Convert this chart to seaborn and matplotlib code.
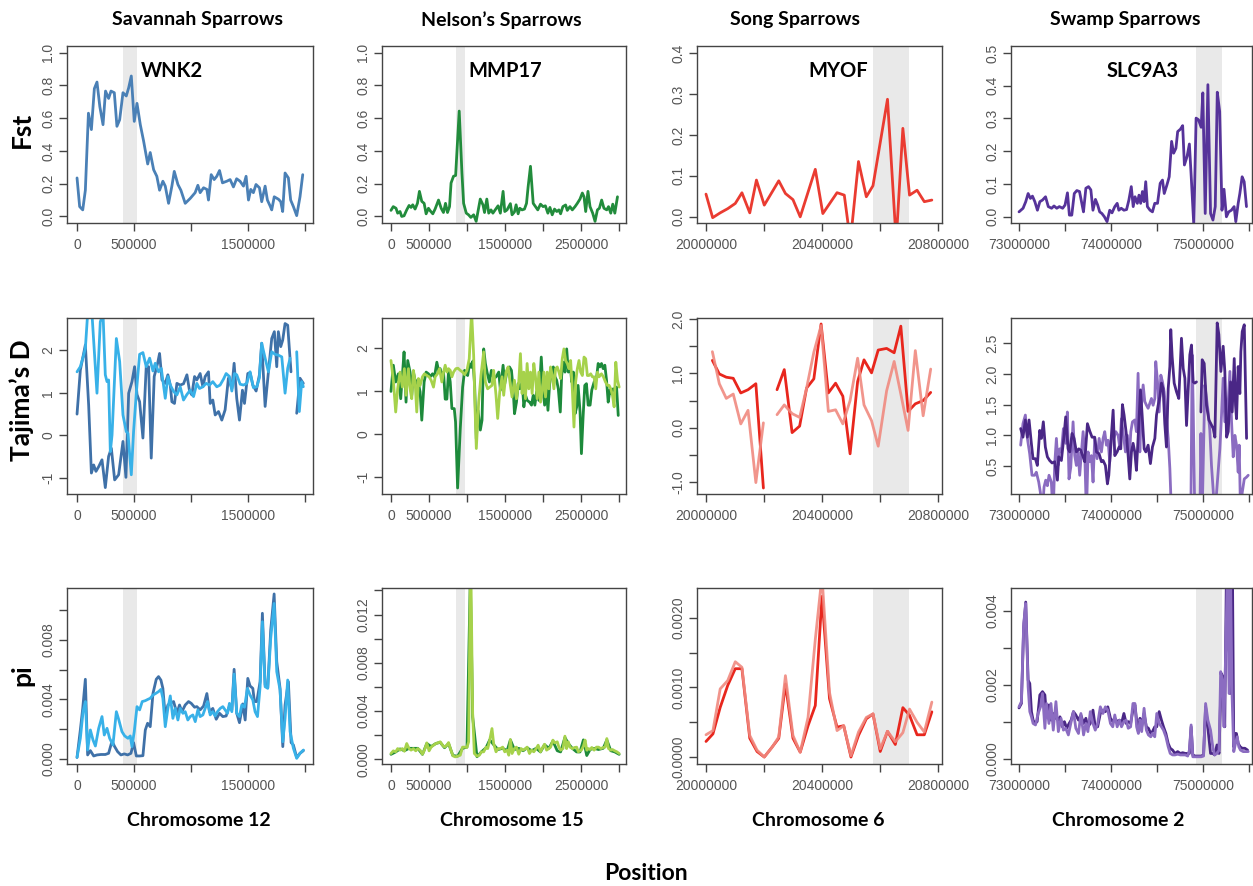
import warnings
warnings.filterwarnings("ignore")

import numpy as np
import pandas as pd
import matplotlib
matplotlib.use("Agg")
import matplotlib.pyplot as plt
import seaborn as sns

sns.set_theme(style="ticks")
plt.rcParams["font.family"] = ["Liberation Sans", "DejaVu Sans"]
plt.rcParams["lines.solid_joinstyle"] = "round"
plt.rcParams["lines.solid_capstyle"] = "round"

nan = np.nan

# ── Fst ─────────────────────────────────────────────────────────
sav_fst_kb = [0, 23, 50, 73, 100, 126, 152, 175, 200, 228, 250, 277, 298, 327, 350, 374, 403,
              432, 453, 476, 502, 526, 555, 584, 620, 642, 672, 700, 724, 753, 774, 803, 832,
              853, 885, 911, 949, 993, 1036, 1060, 1080, 1110, 1139, 1153, 1177, 1203, 1226,
              1250, 1276, 1314, 1343, 1372, 1400, 1430, 1460, 1483, 1504, 1524, 1547, 1570,
              1600, 1620, 1650, 1670, 1693, 1708, 1730, 1767, 1787, 1804, 1825, 1854, 1874,
              1898, 1927, 1956, 1980]
sav_fst = [0.235, 0.06, 0.04, 0.16, 0.63, 0.53, 0.78, 0.82, 0.67, 0.56, 0.765, 0.72, 0.765,
           0.755, 0.55, 0.59, 0.755, 0.735, 0.785, 0.857, 0.58, 0.69, 0.56, 0.46, 0.32, 0.39,
           0.285, 0.245, 0.16, 0.215, 0.185, 0.08, 0.185, 0.275, 0.195, 0.16, 0.08, 0.11,
           0.145, 0.19, 0.145, 0.175, 0.165, 0.10, 0.255, 0.225, 0.245, 0.28, 0.205, 0.215,
           0.225, 0.18, 0.23, 0.215, 0.185, 0.245, 0.10, 0.165, 0.145, 0.195, 0.175, 0.09,
           0.185, 0.10, 0.065, 0.04, 0.12, 0.105, 0.09, 0.03, 0.265, 0.235, 0.10, 0.06,
           0.005, 0.12, 0.255]

nel_fst_kb = [0, 30, 66, 88, 119, 141, 172, 207, 238, 264, 286, 317, 348, 374, 405, 436, 462,
              493, 515, 550, 580, 625, 660, 690, 717, 743, 770, 790, 822, 850, 897, 933, 955,
              990, 1020, 1050, 1087, 1120, 1174, 1210, 1230, 1260, 1285, 1315, 1340, 1370,
              1408, 1438, 1474, 1496, 1526, 1570, 1592, 1623, 1645, 1672, 1694, 1724, 1755,
              1782, 1803, 1834, 1870, 1900, 1930, 1966, 2000, 2030, 2063, 2090, 2120, 2150,
              2180, 2208, 2230, 2260, 2296, 2318, 2353, 2384, 2420, 2450, 2485, 2516, 2538,
              2560, 2590, 2617, 2652, 2683, 2714, 2740, 2770, 2800, 2837, 2860, 2890, 2916,
              2943, 2978]
nel_fst = [0.037, 0.06, 0.05, 0.02, 0.03, 0.0, 0.004, 0.04, 0.067, 0.055, 0.071, 0.045, 0.08,
           0.153, 0.092, 0.08, 0.016, 0.05, 0.035, 0.016, 0.045, 0.10, 0.05, 0.024, 0.08,
           0.024, 0.06, 0.204, 0.245, 0.25, 0.643, 0.265, 0.08, 0.02, 0.01, -0.006, 0.01,
           -0.03, 0.106, 0.07, 0.024, 0.106, 0.02, 0.04, 0.02, 0.04, 0.065, 0.02, 0.153, 0.03,
           0.04, 0.078, 0.01, 0.027, 0.071, 0.016, 0.05, 0.04, 0.045, 0.08, 0.18, 0.306,
           0.08, 0.06, 0.04, 0.075, 0.06, 0.065, 0.02, 0.055, 0.01, 0.045, 0.03, 0.04, 0.016,
           0.06, 0.07, 0.037, 0.06, 0.04, 0.06, 0.08, 0.106, 0.143, 0.12, 0.03, 0.153, 0.06,
           0.02, -0.03, 0.04, 0.05, 0.10, 0.05, 0.04, 0.06, 0.02, 0.075, 0.02, 0.12]

song_fst_mb = [20.000, 20.023, 20.049, 20.075, 20.101, 20.124, 20.151, 20.174, 20.201, 20.251,
               20.274, 20.300, 20.325, 20.377, 20.403, 20.452, 20.477, 20.498, 20.526, 20.553,
               20.576, 20.626, 20.656, 20.679, 20.702, 20.728, 20.753, 20.779]
song_fst = [0.0555, -0.002, 0.0098, 0.02, 0.0327, 0.0588, 0.0098, 0.0898, 0.0286, 0.088, 0.057,
            0.042, 0.0, 0.116, 0.008, 0.059, 0.053, -0.06, 0.135, 0.049, 0.076, 0.287, -0.06,
            0.216, 0.053, 0.065, 0.037, 0.041]

swamp_fst_mb = [73.000, 73.044, 73.073, 73.099, 73.124, 73.146, 73.172, 73.200, 73.226, 73.255,
                73.288, 73.318, 73.354, 73.380, 73.410, 73.438, 73.474, 73.500, 73.526, 73.547,
                73.573, 73.600, 73.628, 73.657, 73.682, 73.700, 73.726, 73.755, 73.780, 73.803,
                73.830, 73.854, 73.876, 73.900, 73.927, 73.956, 73.985, 74.010, 74.040, 74.066,
                74.084, 74.110, 74.139, 74.168, 74.193, 74.219, 74.240, 74.260, 74.285, 74.303,
                74.321, 74.340, 74.358, 74.376, 74.394, 74.423, 74.449, 74.474, 74.504, 74.533,
                74.558, 74.577, 74.606, 74.631, 74.657, 74.679, 74.704, 74.723, 74.752, 74.777,
                74.796, 74.825, 74.850, 74.869, 74.898, 74.923, 74.949, 74.978, 74.996, 75.022,
                75.051, 75.080, 75.106, 75.131, 75.153, 75.179, 75.204, 75.226, 75.252, 75.277,
                75.306, 75.336, 75.354, 75.380, 75.398, 75.423, 75.445, 75.470]
swamp_fst = [0.015, 0.026, 0.046, 0.071, 0.056, 0.063, 0.046, 0.020, 0.046, 0.051,
             0.061, 0.031, 0.026, 0.033, 0.026, 0.031, 0.026, 0.036, 0.073, 0.005,
             0.005, 0.071, 0.080, 0.077, 0.041, 0.015, 0.087, 0.092, 0.082, 0.020,
             0.053, 0.036, 0.015, 0.010, 0.000, -0.015, 0.020, 0.012, 0.031, 0.041,
             0.020, 0.026, 0.020, 0.022, 0.051, 0.092, 0.031, 0.061, 0.041, 0.066,
             0.041, 0.077, 0.046, 0.107, 0.031, 0.020, 0.015, 0.041, 0.041, 0.102,
             0.112, 0.071, 0.097, 0.122, 0.230, 0.194, 0.209, 0.260, 0.267, 0.278,
             0.158, 0.184, 0.222, 0.128, -0.026, 0.301, 0.296, 0.273, 0.378, 0.010,
             0.403, 0.010, -0.010, 0.031, 0.380, 0.321, 0.020, 0.084, 0.000, 0.015,
             0.020, 0.031, -0.015, 0.041, 0.071, 0.122, 0.107, 0.031]

# ── Tajima's D ──────────────────────────────────────────────────
sav_taj_dark_kb = [0, 29, 73, 102, 126, 146, 166, 190, 219, 248, 277, 301, 330, 365, 403, 429,
                   453, 482, 505, 526, 549, 578, 607, 628, 651, 677, 707, 724, 745, 774, 797,
                   818, 832, 855, 876, 905, 934, 964, 987, 1007, 1031, 1051, 1080, 1104, 1124,
                   1153, 1168, 1191, 1212, 1241, 1270, 1299, 1328, 1358, 1378, 1401, 1425,
                   1451, 1469, 1498, 1518, 1542, 1571, 1600, 1620, 1650, 1679, 1708, 1731,
                   1752, 1766, 1787, 1804, 1825, 1848, 1877, 1900, 1927, 1956, 1985]
sav_taj_dark = [0.50, 1.53, 2.12, 0.71, -0.88, -0.69, -0.84, -0.73, -0.57, -1.22,
                -0.49, -0.30, -1.04, -0.92, -0.14, -0.98, 0.99, 1.26, 1.61, 0.96,
                0.79, -0.06, 1.61, 1.61, -0.53, 1.38, 1.69, 1.92, 1.30, 1.22,
                1.42, 1.18, 0.79, 0.75, 1.22, 1.18, 1.21, 1.42, 1.04, 0.95,
                1.38, 1.30, 1.45, 1.14, 1.38, 1.49, 0.75, 0.83, 0.48, 0.56,
                0.36, 0.60, 1.34, 1.10, 1.69, 0.87, 0.36, 1.06, 0.75, 1.45,
                1.47, 1.18, 1.04, 1.42, 2.16, 0.68, 1.49, 2.27, 2.43, 1.61,
                2.43, 2.08, 2.23, 2.62, 2.58, 1.49, nan, 0.52, 1.34, 1.22]
sav_taj_light_kb = [0, 29, 58, 73, 93, 131, 175, 204, 228, 248, 263, 277, 292, 307, 345, 374,
                    403, 432, 447, 476, 496, 520, 549, 578, 607, 637, 666, 686, 715, 739, 774,
                    797, 818, 847, 876, 905, 934, 964, 993, 1022, 1051, 1074, 1104, 1133,
                    1162, 1191, 1226, 1255, 1285, 1308, 1337, 1358, 1381, 1401, 1431, 1460,
                    1489, 1518, 1547, 1577, 1600, 1620, 1650, 1679, 1708, 1737, 1766, 1796,
                    1825, 1848, 1869, 1900, 1927, 1950, 1971, 1985]
sav_taj_light = [1.49, 1.61, 1.88, 2.04, 2.85, 2.85, 0.99, 2.66, 2.85, 1.42,
                 1.26, 1.30, -0.38, 0.01, 2.27, 1.73, 0.48, 0.09, 0.05, -0.92,
                 0.09, 0.99, 1.90, 1.94, 1.61, 1.81, 1.51, 1.69, 1.49, 1.57,
                 0.87, 1.38, 1.18, 1.03, 0.95, 1.14, 0.83, 0.96, 1.06, 0.91,
                 1.22, 1.10, 1.14, 1.22, 1.18, 1.26, 1.14, 1.18, 1.32, 1.45,
                 1.38, 1.04, 1.45, 1.42, 1.20, 1.18, 1.22, 1.49, 1.12, 1.14,
                 1.35, 2.16, 1.81, 1.49, 1.96, 1.90, 1.88, 1.84, 0.99, 1.57,
                 1.81, nan, 1.96, 0.56, 1.26, 1.14]

nel_taj_dark_kb = [0, 31, 62, 97, 128, 154, 172, 198, 220, 251, 273, 295, 326, 352, 383, 405,
                   436, 462, 493, 515, 546, 572, 603, 625, 647, 669, 691, 713, 735, 757, 779,
                   801, 832, 849, 876, 911, 942, 968, 990, 1008, 1034, 1056, 1078, 1100, 1122,
                   1144, 1175, 1197, 1219, 1241, 1263, 1294, 1320, 1351, 1382, 1417, 1439,
                   1474, 1496, 1527, 1558, 1584, 1606, 1624, 1650, 1672, 1694, 1725, 1747,
                   1769, 1791, 1822, 1848, 1870, 1892, 1914, 1945, 1976, 1998, 2020, 2042,
                   2064, 2086, 2112, 2134, 2156, 2178, 2200, 2226, 2244, 2266, 2288, 2310,
                   2332, 2354, 2376, 2398, 2420, 2442, 2460, 2486, 2504, 2526, 2548, 2570,
                   2592, 2618, 2640, 2671, 2702, 2724, 2746, 2768, 2790, 2812, 2834, 2856,
                   2878, 2900, 2922, 2944, 2966, 2988]
nel_taj_dark = [0.99, 1.60, 1.21, 1.40, 0.82, 1.46, 1.91, 0.74, 1.71, 1.44,
                0.90, 1.44, 1.17, 1.25, 0.98, 0.32, 1.21, 1.44, 1.40, 1.33,
                1.40, 1.33, 1.67, 1.48, 1.52, 1.33, 1.44, 0.81, 0.81, 1.48,
                1.21, 0.59, 0.59, 0.28, -1.26, 0.12, 1.09, 1.48, 1.40, 1.36,
                1.64, 1.55, 1.70, 1.13, -0.11, 0.55, 0.09, 0.32, 1.98, 1.64,
                1.44, 1.21, 1.48, 1.29, 1.33, 1.44, 1.02, 1.60, 1.17, 1.48,
                1.56, 1.48, 1.05, 0.47, 0.74, 1.17, 1.05, 1.21, 0.63, 0.90,
                0.78, 0.74, 0.67, 0.90, 0.67, 0.98, 0.78, 1.79, 1.05, 0.67,
                1.05, 0.55, 1.17, 1.44, 1.56, 1.33, 1.25, 1.05, 0.51, 1.36,
                1.67, 1.44, 1.98, 1.44, 1.67, 1.21, 1.44, 0.47, 0.63, 1.13,
                0.51, -0.46, 0.40, 1.13, 1.17, 0.67, 0.67, 1.02, 1.21, 1.29,
                1.64, 1.56, 1.64, 1.52, 1.60, 1.25, 0.74, 1.02, 0.94, 1.05,
                1.02, 1.09, 0.43]
nel_taj_light_kb = [0, 31, 62, 88, 119, 150, 176, 198, 229, 251, 273, 295, 317, 339, 361, 383,
                    414, 440, 471, 501, 528, 559, 581, 611, 638, 669, 691, 713, 735, 757, 779,
                    801, 823, 853, 880, 911, 941, 968, 999, 1029, 1060, 1087, 1104, 1122, 1153,
                    1183, 1219, 1241, 1271, 1298, 1328, 1350, 1381, 1403, 1430, 1460, 1482,
                    1513, 1540, 1570, 1592, 1623, 1650, 1680, 1702, 1724, 1746, 1768, 1790,
                    1812, 1834, 1856, 1878, 1900, 1922, 1944, 1966, 1988, 2010, 2032, 2054,
                    2076, 2098, 2120, 2142, 2164, 2186, 2208, 2230, 2252, 2274, 2296, 2318,
                    2340, 2362, 2384, 2406, 2428, 2450, 2472, 2494, 2516, 2538, 2560, 2582,
                    2604, 2626, 2648, 2670, 2692, 2714, 2736, 2767, 2793, 2820, 2846, 2868,
                    2890, 2912, 2934, 2956, 2978, 3000]
nel_taj_light = [1.71, 1.25, 0.51, 1.05, 1.44, 1.09, 1.52, 0.90, 1.52, 1.05,
                 0.82, 1.48, 1.21, 0.51, 1.29, 1.13, 1.33, 1.40, 1.36, 1.33,
                 1.25, 1.09, 1.33, 1.40, 1.52, 1.21, 1.44, 1.60, 1.44, 1.52,
                 1.48, 1.33, 1.44, 1.52, 1.53, 1.48, 1.44, 1.38, 1.48, 1.75,
                 2.85, 1.83, 0.67, -0.34, 0.74, 1.36, 1.91, 1.21, 1.05, 1.09,
                 1.13, 1.48, 0.90, 0.36, 0.98, 1.33, 0.90, 1.44, 1.56, 1.13,
                 0.86, 1.25, 0.82, 1.21, 1.87, 0.94, 1.44, 0.82, 1.64, 1.05,
                 1.44, 0.94, 1.64, 1.33, 0.82, 1.44, 0.74, 0.98, 1.44, 0.86,
                 1.44, 1.05, 1.56, 1.36, 1.05, 1.52, 1.56, 1.44, 1.29, 1.75,
                 1.98, 1.71, 1.64, 1.52, 1.71, 1.05, 0.16, 1.21, 1.52, 1.71,
                 1.44, 1.36, 1.79, 1.75, 1.36, 1.36, 1.40, 1.33, 1.33, 1.05,
                 1.44, 1.33, 1.40, 1.33, 1.21, 1.13, 1.13, 1.05, 0.90, 0.63,
                 1.67, 1.25, 1.09]

song_taj_mb = [20.022, 20.046, 20.070, 20.094, 20.120, 20.145, 20.172, 20.198, 20.222, 20.245,
               20.270, 20.297, 20.323, 20.347, 20.372, 20.397, 20.422, 20.447, 20.472, 20.497,
               20.523, 20.545, 20.571, 20.594, 20.623, 20.649, 20.672, 20.697, 20.722, 20.749,
               20.775]
song_taj_dark = [1.24, 0.99, 0.93, 0.91, 0.64, 0.70, 0.81, -1.11, nan, 0.70, 1.07, -0.09, 0.03,
                 0.73, 0.90, 1.91, 0.64, 0.82, 0.58, -0.48, 0.85, 1.25, 1.01, 1.43, 1.46, 1.38,
                 1.87, 0.30, 0.44, 0.50, 0.65]
song_taj_light = [1.40, 0.81, 0.54, 0.62, 0.07, 0.32, -1.01, 0.09, nan, 0.24, 0.42, 0.26, 0.19,
                  0.73, 1.39, 1.88, 0.30, 0.33, 0.07, 0.50, 1.28, 0.42, 0.13, -0.34, 0.68,
                  1.22, 0.62, -0.05, 1.42, 0.22, 1.08]

swamp_taj_dark_mb = [73.018, 73.043, 73.069, 73.091, 73.109, 73.134, 73.152, 73.178, 73.199,
                     73.225, 73.243, 73.264, 73.286, 73.308, 73.333, 73.359, 73.388, 73.417,
                     73.431, 73.460, 73.489, 73.507, 73.533, 73.551, 73.576, 73.598, 73.623,
                     73.649, 73.670, 73.696, 73.714, 73.743, 73.768, 73.793, 73.822, 73.841,
                     73.870, 73.895, 73.913, 73.938, 73.960, 73.975, 73.996, 74.022, 74.040,
                     74.065, 74.087, 74.105, 74.123, 74.141, 74.167, 74.185, 74.203, 74.221,
                     74.239, 74.257, 74.275, 74.293, 74.319, 74.337, 74.359, 74.377, 74.402,
                     74.427, 74.449, 74.475, 74.493, 74.511, 74.529, 74.547, 74.565, 74.583,
                     74.601, 74.620, 74.638, 74.648, 74.663, 74.685, 74.710, 74.735, 74.764,
                     74.783, 74.801, 74.819, 74.837, 74.855, 74.873, 74.891, 74.909, 74.927,
                     74.950, 74.975, 74.989, 75.011, 75.036, 75.062, 75.083, 75.109, 75.127,
                     75.152, 75.170, 75.192, 75.217, 75.235, 75.254, 75.272, 75.297, 75.315,
                     75.337, 75.351, 75.362, 75.380, 75.398, 75.409, 75.424, 75.446, 75.471]
swamp_taj_dark = [1.11, 0.97, 1.25, 0.97, 1.25, 0.87, 0.62, 0.62, 0.51, 1.08,
                  0.95, 1.22, 0.81, 0.65, 0.59, 0.55, 0.57, 0.27, 0.65, 0.59,
                  1.00, 1.30, 0.78, 0.73, 1.03, 0.95, 0.73, 0.78, 0.76, 0.65,
                  0.57, 1.19, 1.07, 0.97, 0.97, 0.73, 0.70, 0.57, 0.59, 0.51,
                  0.21, 0.35, 0.84, 1.41, 0.67, 0.73, 0.81, 0.78, 1.50, 1.33,
                  1.00, 0.67, 0.29, 0.73, 0.87, 0.73, 0.43, 0.95, 1.74, 1.33,
                  0.78, 0.73, 0.84, 0.54, 0.81, 0.95, 1.33, 1.49, 1.63, 1.85,
                  1.76, 1.19, 0.81, 1.76, 2.12, 2.72, 2.28, 1.85, 1.71, 1.60,
                  2.58, 2.09, 1.93, 1.16, 1.74, 2.31, 2.47, 1.87, 1.85, 1.87,
                  nan, 1.38, 2.23, 2.17, 1.49, 1.25, 1.19, 1.11, 0.97, 2.83,
                  2.64, 2.04, 2.45, 2.04, 0.97, 1.06, 1.87, 1.38, 2.25, 1.49,
                  1.27, 2.12, 1.68, 2.36, 2.69, 2.80, 0.95]
swamp_taj_light_mb = [73.018, 73.043, 73.069, 73.091, 73.116, 73.141, 73.170, 73.188, 73.214,
                      73.232, 73.250, 73.272, 73.290, 73.308, 73.326, 73.351, 73.370, 73.388,
                      73.406, 73.424, 73.442, 73.460, 73.482, 73.507, 73.525, 73.543, 73.562,
                      73.587, 73.605, 73.623, 73.641, 73.659, 73.678, 73.696, 73.714, 73.732,
                      73.750, 73.768, 73.786, 73.804, 73.822, 73.848, 73.870, 73.895, 73.913,
                      73.931, 73.949, 73.967, 73.985, 74.004, 74.029, 74.051, 74.076, 74.094,
                      74.112, 74.138, 74.156, 74.177, 74.196, 74.214, 74.232, 74.257, 74.275,
                      74.293, 74.312, 74.330, 74.348, 74.366, 74.384, 74.402, 74.420, 74.438,
                      74.456, 74.475, 74.485, 74.504, 74.522, 74.540, 74.558, 74.576, 74.594,
                      74.620, 74.638, 74.656, 74.866, 74.880, 74.891, 74.909, 74.964, 74.975,
                      74.989, 75.018, 75.036, 75.054, 75.072, 75.090, 75.127, 75.181, 75.199,
                      75.217, 75.235, 75.264, 75.290, 75.308, 75.326, 75.344, 75.362, 75.380,
                      75.391, 75.406, 75.424, 75.446, 75.471, 75.489]
swamp_taj_light = [0.84, 1.19, 1.33, 0.95, 0.70, 0.35, 0.35, 0.40, 0.24, 0.07,
                   -0.3, 0.16, 0.27, 0.18, 0.35, 0.24, -0.3, 0.54, 0.95, 0.51,
                   0.78, 0.73, 1.11, 0.87, 1.38, 0.29, 0.48, 1.22, 0.67, 0.51,
                   0.73, 0.35, 0.73, 1.06, 0.70, -0.3, 0.73, 0.57, 0.67, 0.24,
                   0.95, 0.62, 0.95, 0.73, 0.95, 1.06, 0.84, 0.92, 0.57, 0.95,
                   0.95, 1.06, 1.00, 0.81, 1.27, 0.95, 0.73, 1.00, 0.57, 1.06,
                   1.22, 1.25, 1.06, 2.01, 0.73, 1.49, 1.82, 1.55, 1.49, 1.44,
                   1.52, 1.60, 1.49, 1.60, 2.20, 1.87, 1.38, 1.98, 1.87, 1.71,
                   1.41, 0.95, 0.46, -0.3, -0.3, 2.31, 1.49, -0.3, -0.3, 1.03,
                   -0.3, 1.82, 1.60, 1.38, 1.08, 0.51, -0.3, 0.78, 1.33, 1.93,
                   1.22, 1.33, 2.04, 1.22, 0.65, 1.00, 0.84, 0.40, 0.84, -0.3,
                   0.07, 0.29, 0.32, 0.35]

# ── pi ──────────────────────────────────────────────────────────
sav_pi_dark_kb = [0, 29, 50, 73, 93, 117, 146, 175, 210, 248, 277, 307, 330, 356, 385, 415, 444,
                  473, 496, 520, 549, 578, 599, 619, 642, 666, 695, 715, 736, 753, 774, 797,
                  818, 847, 876, 899, 920, 949, 978, 1002, 1031, 1051, 1080, 1110, 1139, 1162,
                  1191, 1221, 1250, 1279, 1308, 1337, 1358, 1378, 1401, 1425, 1454, 1475,
                  1498, 1518, 1542, 1556, 1577, 1606, 1626, 1650, 1673, 1699, 1729, 1752,
                  1781, 1805, 1825, 1854, 1878, 1898, 1927, 1956, 1986]
sav_pi_dark = [0.0001, 0.00195, 0.0034, 0.00536, 0.00027, 0.00056, 0.0002, 0.00027, 0.0003, 0.0003,
               0.00038, 0.0012, 0.00083, 0.00049, 0.00027, 0.00034, 0.00027, 0.00038, 0.0011, 0.0002,
               0.0002, 0.00022, 0.00195, 0.0024, 0.00217, 0.0044, 0.00536, 0.00554, 0.0053, 0.00475,
               0.00285, 0.00363, 0.00374, 0.00386, 0.00307, 0.00363, 0.00318, 0.00363, 0.00386, 0.00374,
               0.00348, 0.00352, 0.0033, 0.00356, 0.0044, 0.00318, 0.0034, 0.00267, 0.00307, 0.00285,
               0.00289, 0.00356, 0.0033, 0.00603, 0.00307, 0.00244, 0.0037, 0.00262, 0.00542, 0.00491,
               0.00475, 0.00386, 0.00386, 0.0052, 0.0098, 0.00497, 0.00479, 0.00867, 0.0111, 0.00654,
               0.00475, 0.00083, 0.00363, 0.0052, 0.0011, 0.00094, 0.0001, 0.00038, 0.00056]
sav_pi_light_kb = [0, 29, 53, 73, 93, 117, 140, 161, 190, 219, 239, 263, 286, 315, 345, 365, 394,
                   418, 447, 467, 482, 502, 526, 549, 572, 599, 622, 642, 666, 689, 715, 736,
                   753, 774, 797, 818, 841, 861, 885, 905, 929, 949, 972, 993, 1016, 1037,
                   1060, 1080, 1104, 1124, 1145, 1168, 1191, 1212, 1232, 1256, 1279, 1299,
                   1320, 1337, 1358, 1378, 1401, 1425, 1445, 1469, 1495, 1518, 1542, 1562,
                   1583, 1606, 1626, 1650, 1673, 1699, 1729, 1752, 1781, 1805, 1825, 1848,
                   1869, 1898, 1927, 1956, 1986]
sav_pi_light = [0.0001, 0.00139, 0.00318, 0.00386, 0.0006, 0.00195, 0.00128, 0.00087, 0.00206, 0.00285,
                0.00161, 0.00206, 0.00139, 0.00094, 0.00318, 0.00267, 0.00184, 0.00155, 0.00139, 0.00155,
                0.00083, 0.00184, 0.00352, 0.0033, 0.00386, 0.00392, 0.00401, 0.00408, 0.0043, 0.0044,
                0.00453, 0.00468, 0.00408, 0.00217, 0.0034, 0.00424, 0.00273, 0.0034, 0.00262, 0.0034,
                0.00307, 0.00318, 0.00262, 0.00285, 0.00296, 0.00251, 0.0033, 0.00285, 0.00296, 0.0034,
                0.00386, 0.00296, 0.00318, 0.00289, 0.00318, 0.0034, 0.00352, 0.0033, 0.00307, 0.00374,
                0.00318, 0.00571, 0.00307, 0.00285, 0.00363, 0.00348, 0.00475, 0.0043, 0.00397, 0.00318,
                0.00285, 0.00486, 0.00923, 0.00486, 0.00475, 0.00811, 0.01046, 0.00587, 0.00464, 0.00116,
                0.00273, 0.00531, 0.00184, 0.00072, 0.00004, 0.00038, 0.0006]

nel_pi_dark_kb = [0, 62, 119, 176, 238, 295, 352, 414, 471, 528, 590, 647, 704, 757, 814, 876,
                  941, 999, 1043, 1074, 1131, 1188, 1250, 1298, 1350, 1408, 1469, 1527, 1570,
                  1623, 1680, 1738, 1790, 1848, 1909, 1966, 2019, 2076, 2129, 2186, 2230, 2287,
                  2331, 2384, 2441, 2485, 2530, 2574, 2618, 2671, 2728, 2790, 2838, 2890, 2943,
                  3000]
nel_pi_dark = [0.0004, 0.0006, 0.00085, 0.0007, 0.0009, 0.0009, 0.0009, 0.0004, 0.0013, 0.00105,
               0.0013, 0.0014, 0.00095, 0.0013, 0.0003, 0.00025, 0.0009, 0.001, 0.0150, 0.0035,
               0.0002, 0.0006, 0.00095, 0.0016, 0.0012, 0.0008, 0.0009, 0.0007, 0.0016, 0.0008,
               0.0009, 0.0007, 0.00095, 0.0007, 0.0009, 0.0006, 0.0012, 0.0009, 0.0015, 0.0007,
               0.0006, 0.0018, 0.0013, 0.0009, 0.0006, 0.0006, 0.0016, 0.0003, 0.0008, 0.0009,
               0.0008, 0.0009, 0.0016, 0.0007, 0.0006, 0.0004]
nel_pi_light_kb = [0, 31, 62, 88, 119, 150, 176, 207, 238, 264, 295, 326, 352, 383, 414, 440,
                   471, 501, 528, 559, 590, 616, 647, 678, 704, 735, 757, 788, 814, 845, 876,
                   911, 941, 968, 999, 1021, 1043, 1052, 1074, 1096, 1131, 1162, 1188, 1219,
                   1250, 1272, 1298, 1328, 1350, 1381, 1408, 1439, 1469, 1496, 1527, 1549,
                   1570, 1592, 1623, 1650, 1680, 1711, 1738, 1768, 1790, 1821, 1848, 1878,
                   1909, 1935, 1966, 1997, 2019, 2046, 2076, 2098, 2129, 2155, 2186, 2208,
                   2230, 2261, 2287, 2309, 2331, 2353, 2384, 2415, 2441, 2463, 2485, 2503,
                   2530, 2552, 2574, 2596, 2618, 2640, 2671, 2702, 2728, 2759, 2790, 2816,
                   2838, 2860, 2890, 2912, 2943, 2970, 3000]
nel_pi_light = [0.00047, 0.00069, 0.00061, 0.00088, 0.00075, 0.00088, 0.00066, 0.0013, 0.00088, 0.00075,
                0.00088, 0.00069, 0.00088, 0.00075, 0.00041, 0.00075, 0.00135, 0.00069, 0.001, 0.00116,
                0.0013, 0.00135, 0.00144, 0.00116, 0.001, 0.00116, 0.00138, 0.00075, 0.00028, 0.00019,
                0.00025, 0.00033, 0.001, 0.001, 0.00097, 0.00144, 0.0150, 0.0150, 0.0038, 0.00047,
                0.00025, 0.00033, 0.00061, 0.00061, 0.001, 0.00088, 0.00158, 0.00254, 0.0013, 0.00061,
                0.00088, 0.00088, 0.001, 0.00061, 0.00075, 0.00033, 0.00163, 0.00047, 0.00088, 0.001,
                0.00041, 0.00088, 0.00075, 0.00088, 0.001, 0.00047, 0.00075, 0.00061, 0.00088, 0.00116,
                0.00061, 0.001, 0.00124, 0.00075, 0.00088, 0.001, 0.00158, 0.00135, 0.00144, 0.001,
                0.00075, 0.00088, 0.00191, 0.00088, 0.00144, 0.001, 0.00088, 0.00097, 0.001, 0.00061,
                0.00069, 0.00075, 0.00108, 0.00158, 0.00075, 0.00088, 0.0008, 0.00097, 0.00075, 0.001,
                0.001, 0.00088, 0.00097, 0.001, 0.00171, 0.00088, 0.00075, 0.0008, 0.00069, 0.00061,
                0.00047]

song_pi_mb = [20.000, 20.024, 20.049, 20.075, 20.101, 20.124, 20.151, 20.176, 20.201, 20.228,
              20.251, 20.274, 20.300, 20.325, 20.352, 20.377, 20.400, 20.426, 20.452, 20.475,
              20.500, 20.526, 20.553, 20.576, 20.601, 20.626, 20.653, 20.679, 20.702, 20.728,
              20.753, 20.779]
song_pi_dark = [0.000224, 0.000333, 0.000714, 0.00103, 0.00127, 0.00127, 0.00027, 0.00008, 0.0,
                0.000143, 0.00027, 0.00105, 0.00027, 0.00007, 0.00045, 0.00074, 0.00231, 0.00084,
                0.00043, 0.00045, 0.0, 0.00031, 0.00055, 0.00062, 0.00008, 0.00037, 0.00018,
                0.00071, 0.0006, 0.00032, 0.00032, 0.00065]
song_pi_light = [0.00032, 0.00038, 0.00098, 0.0011, 0.00137, 0.00129, 0.00031, 0.0001, 0.0,
                 0.00014, 0.00029, 0.00117, 0.00031, 0.00007, 0.00057, 0.00169, 0.0026, 0.00093,
                 0.00038, 0.00045, 0.00002, 0.00036, 0.00057, 0.00062, 0.00012, 0.00037, 0.00022,
                 0.00035, 0.00069, 0.0005, 0.00036, 0.00079]

swamp_pi_dark_mb = [73.000, 73.026, 73.051, 73.073, 73.099, 73.117, 73.135, 73.153, 73.172, 73.197,
                    73.226, 73.255, 73.281, 73.299, 73.325, 73.347, 73.372, 73.401, 73.427, 73.445,
                    73.471, 73.493, 73.518, 73.544, 73.566, 73.591, 73.617, 73.646, 73.672, 73.701,
                    73.726, 73.748, 73.774, 73.803, 73.828, 73.854, 73.883, 73.912, 73.938, 73.964,
                    73.993, 74.018, 74.040, 74.066, 74.091, 74.113, 74.139, 74.164, 74.186, 74.212,
                    74.237, 74.259, 74.277, 74.296, 74.314, 74.332, 74.358, 74.383, 74.405, 74.431,
                    74.449, 74.474, 74.496, 74.522, 74.547, 74.569, 74.595, 74.620, 74.642, 74.668,
                    74.693, 74.723, 74.752, 74.777, 74.806, 74.832, 74.850, 74.869, 74.887, 74.912,
                    74.942, 74.978, 75.004, 75.026, 75.051, 75.080, 75.106, 75.124, 75.150, 75.172,
                    75.197, 75.215, 75.234, 75.252, 75.278, 75.292, 75.307, 75.318, 75.332, 75.343,
                    75.361, 75.380, 75.402, 75.424, 75.453, 75.482]
swamp_pi_dark = [0.00138, 0.0015, 0.00357, 0.00424, 0.00213, 0.00204, 0.00128, 0.00105, 0.00096, 0.00101,
                 0.00173, 0.00182, 0.00173, 0.00114, 0.00146, 0.00105, 0.00123, 0.0011, 0.00105, 0.00114,
                 0.00087, 0.00101, 0.00083, 0.00096, 0.00105, 0.00128, 0.00119, 0.00105, 0.00119, 0.00096,
                 0.0011, 0.00087, 0.00096, 0.00132, 0.00087, 0.00087, 0.00123, 0.00132, 0.00128, 0.00141,
                 0.0011, 0.00101, 0.0011, 0.00101, 0.00105, 0.00096, 0.00123, 0.00096, 0.00101, 0.00096,
                 0.00132, 0.00146, 0.00105, 0.00074, 0.0011, 0.00087, 0.00123, 0.00087, 0.00083, 0.00069,
                 0.00074, 0.00087, 0.00087, 0.00128, 0.00105, 0.00087, 0.00069, 0.00042, 0.00029, 0.00024,
                 0.00015, 0.0002, 0.00015, 0.00017, 0.00015, 0.00015, 0.00015, 0.00087, 0.00011, 0.00008,
                 0.00008, 0.00008, 0.00011, 0.00141, 0.00083, 0.00015, 0.00015, 0.00011, 0.00038, 0.00015,
                 0.00231, 0.00222, 0.00087, 0.0050, 0.0050, 0.00177, 0.00303, 0.0050, 0.00033, 0.00069,
                 0.00069, 0.00042, 0.00033, 0.00029, 0.00029, 0.00024]
swamp_pi_light_mb = [73.000, 73.026, 73.051, 73.073, 73.099, 73.117, 73.135, 73.153, 73.179, 73.208,
                     73.234, 73.255, 73.281, 73.299, 73.325, 73.347, 73.372, 73.401, 73.427, 73.456,
                     73.482, 73.507, 73.536, 73.562, 73.591, 73.617, 73.646, 73.672, 73.701, 73.726,
                     73.748, 73.774, 73.803, 73.828, 73.854, 73.883, 73.912, 73.938, 73.964, 73.993,
                     74.018, 74.040, 74.066, 74.091, 74.113, 74.139, 74.164, 74.186, 74.212, 74.237,
                     74.259, 74.277, 74.296, 74.314, 74.332, 74.358, 74.383, 74.405, 74.431, 74.449,
                     74.474, 74.496, 74.522, 74.547, 74.569, 74.595, 74.620, 74.642, 74.668, 74.693,
                     74.723, 74.752, 74.777, 74.806, 74.832, 74.850, 74.869, 74.887, 74.912, 74.942,
                     74.978, 75.004, 75.026, 75.051, 75.080, 75.106, 75.124, 75.150, 75.172, 75.190,
                     75.208, 75.226, 75.245, 75.263, 75.281, 75.296, 75.314, 75.332, 75.351, 75.369,
                     75.387, 75.405, 75.434, 75.471, 75.489]
swamp_pi_light = [0.00141, 0.00155, 0.00366, 0.0042, 0.00195, 0.00128, 0.00114, 0.00096, 0.00092, 0.00123,
                  0.00141, 0.00177, 0.00083, 0.0015, 0.00096, 0.0015, 0.00078, 0.00155, 0.00074, 0.0011,
                  0.00078, 0.00083, 0.00065, 0.00096, 0.00128, 0.00083, 0.00069, 0.00123, 0.00065, 0.00096,
                  0.00074, 0.00128, 0.00096, 0.00078, 0.00096, 0.00141, 0.00123, 0.00141, 0.00132, 0.00096,
                  0.00087, 0.00119, 0.00087, 0.00105, 0.00087, 0.00101, 0.00105, 0.00083, 0.00087, 0.0015,
                  0.0015, 0.00087, 0.00069, 0.00105, 0.00074, 0.00137, 0.00078, 0.00065, 0.0006, 0.00069,
                  0.0006, 0.00123, 0.00096, 0.00087, 0.00078, 0.0006, 0.00033, 0.00015, 0.00011, 0.00011,
                  0.00013, 0.00011, 0.00011, 0.00011, 0.00008, 0.00024, 0.00092, 0.00006, 0.00006, 0.00006,
                  0.00006, 0.00008, 0.0015, 0.00105, 0.00078, 0.00029, 0.00011, 0.00015, 0.00024, 0.00236,
                  0.00213, 0.00087, 0.00303, 0.0050, 0.00177, 0.0050, 0.00168, 0.0002, 0.00042, 0.0006,
                  0.00033, 0.00024, 0.0002, 0.0002, 0.0002]

# candidate gene windows (shaded)
shade = [(400e3, 525e3), (855e3, 974e3), (20.576e6, 20.700e6), (74.924e6, 75.207e6)]

# ── colours ─────────────────────────────────────────────────────
C_SAV = ("#3f71a8", "#38b1e8", "#4a80b6")
C_NEL = ("#1d8a3b", "#a6d24b", "#228c3c")
C_SONG = ("#e8261d", "#f08a80", "#ea3b31")
C_SWA = ("#4a2786", "#8b6cc1", "#56339a")

W, H = 1253, 886
COL_X = [(67, 313), (382, 626), (697, 942), (1011, 1252)]
ROW_Y = [(46, 223), (318, 494), (588, 764)]

fig = plt.figure(figsize=(W / 100, H / 100), dpi=100)


def new_ax(row, col):
    x0, x1 = COL_X[col]
    y0, y1 = ROW_Y[row]
    return fig.add_axes([x0 / W, 1 - y1 / H, (x1 - x0) / W, (y1 - y0) / H])


def draw(ax, xs, ys, color, scale, lw=2.0, alpha=1.0):
    n = min(len(xs), len(ys))
    d = pd.DataFrame({"pos": np.asarray(xs[:n], float) * scale,
                      "val": np.asarray(ys[:n], float)})
    d["seg"] = d["val"].isna().cumsum()
    d = d.dropna()
    sns.lineplot(data=d, x="pos", y="val", units="seg", estimator=None, sort=False,
                 color=color, lw=lw, alpha=alpha, ax=ax, legend=False)


XSPEC = [
    ((-88e3, 2.07e6), [0, 5e5, 1e6, 1.5e6, 2e6], ["0", "500000", "", "1500000", ""]),
    ((-118e3, 3.09e6), [0, 5e5, 1e6, 1.5e6, 2e6, 2.5e6, 3e6],
     ["0", "500000", "", "1500000", "", "2500000", ""]),
    ((19.969e6, 20.814e6), [20.0e6, 20.2e6, 20.4e6, 20.6e6, 20.8e6],
     ["20000000", "", "20400000", "", "20800000"]),
    ((72.913e6, 75.53e6), [73e6, 73.5e6, 74e6, 74.5e6, 75e6, 75.5e6],
     ["73000000", "", "74000000", "", "75000000", ""]),
]

YSPEC = {
    (0, 0): ((-0.04, 1.04), [0, .2, .4, .6, .8, 1.0], ["0.0", "0.2", "0.4", "0.6", "0.8", "1.0"]),
    (0, 1): ((-0.04, 1.04), [0, .2, .4, .6, .8, 1.0], ["0.0", "0.2", "0.4", "0.6", "0.8", "1.0"]),
    (0, 2): ((-0.015, 0.417), [0, .1, .2, .3, .4], ["0.0", "0.1", "0.2", "0.3", "0.4"]),
    (0, 3): ((-0.019, 0.521), [0, .1, .2, .3, .4, .5], ["0.0", "0.1", "0.2", "0.3", "0.4", "0.5"]),
    (1, 0): ((-1.37, 2.75), [-1, 0, 1, 2], ["-1", "0", "1", "2"]),
    (1, 1): ((-1.40, 2.70), [-1, 0, 1, 2], ["-1", "0", "1", "2"]),
    (1, 2): ((-1.22, 2.02), [-1, -.5, 0, .5, 1, 1.5, 2],
             ["-1.0", "", "0.0", "", "1.0", "", "2.0"]),
    (1, 3): ((0.045, 2.91), [.5, 1, 1.5, 2, 2.5], ["0.5", "1.0", "1.5", "2.0", "2.5"]),
    (2, 0): ((-0.00034, 0.0115), [0, .002, .004, .006, .008, .010],
             ["0.000", "", "0.004", "", "0.008", ""]),
    (2, 1): ((-0.0004, 0.0142), [0, .002, .004, .006, .008, .010, .012, .014],
             ["0.000", "", "0.004", "", "0.008", "", "0.012", ""]),
    (2, 2): ((-0.0001, 0.00243), [0, .0005, .001, .0015, .002],
             ["0.0000", "", "0.0010", "", "0.0020"]),
    (2, 3): ((-0.000135, 0.00462), [0, .001, .002, .003, .004],
             ["0.000", "", "0.002", "", "0.004"]),
}

axes = {}
for r in range(3):
    for c in range(4):
        ax = new_ax(r, c)
        ax.axvspan(*shade[c], color="#e9e9e9", lw=0, zorder=0)
        axes[(r, c)] = ax

# row 1 — Fst
draw(axes[(0, 0)], sav_fst_kb, sav_fst, C_SAV[2], 1e3)
draw(axes[(0, 1)], nel_fst_kb, nel_fst, C_NEL[2], 1e3)
draw(axes[(0, 2)], song_fst_mb, song_fst, C_SONG[2], 1e6)
draw(axes[(0, 3)], swamp_fst_mb, swamp_fst, C_SWA[2], 1e6)

# row 2 — Tajima's D
draw(axes[(1, 0)], sav_taj_dark_kb, sav_taj_dark, C_SAV[0], 1e3)
draw(axes[(1, 0)], sav_taj_light_kb, sav_taj_light, C_SAV[1], 1e3)
draw(axes[(1, 1)], nel_taj_dark_kb, nel_taj_dark, C_NEL[0], 1e3)
draw(axes[(1, 1)], nel_taj_light_kb, nel_taj_light, C_NEL[1], 1e3)
draw(axes[(1, 2)], song_taj_mb, song_taj_dark, C_SONG[0], 1e6)
draw(axes[(1, 2)], song_taj_mb, song_taj_light, C_SONG[1], 1e6, alpha=0.9)
draw(axes[(1, 3)], swamp_taj_light_mb, swamp_taj_light, C_SWA[1], 1e6)
draw(axes[(1, 3)], swamp_taj_dark_mb, swamp_taj_dark, C_SWA[0], 1e6)

# row 3 — pi
draw(axes[(2, 0)], sav_pi_dark_kb, sav_pi_dark, C_SAV[0], 1e3)
draw(axes[(2, 0)], sav_pi_light_kb, sav_pi_light, C_SAV[1], 1e3)
draw(axes[(2, 1)], nel_pi_dark_kb, nel_pi_dark, C_NEL[0], 1e3)
draw(axes[(2, 1)], nel_pi_light_kb, nel_pi_light, C_NEL[1], 1e3)
draw(axes[(2, 2)], song_pi_mb, song_pi_dark, C_SONG[0], 1e6)
draw(axes[(2, 2)], song_pi_mb, song_pi_light, C_SONG[1], 1e6, alpha=0.9)
draw(axes[(2, 3)], swamp_pi_dark_mb, swamp_pi_dark, C_SWA[0], 1e6)
draw(axes[(2, 3)], swamp_pi_light_mb, swamp_pi_light, C_SWA[1], 1e6)

for (r, c), ax in axes.items():
    xlim, xt, xtl = XSPEC[c]
    ylim, yt, ytl = YSPEC[(r, c)]
    ax.set_xlim(xlim)
    ax.set_ylim(ylim)
    ax.set_xticks(xt)
    ax.set_xticklabels(xtl)
    ax.set_yticks(yt)
    ax.set_yticklabels(ytl, rotation=90, va="center")
    ax.set_xlabel("")
    ax.set_ylabel("")
    ax.tick_params(direction="out", length=6, width=1, color="#444444",
                   labelcolor="#555555", labelsize=10, bottom=True, left=True)
    ax.tick_params(axis="x", pad=5)
    ax.tick_params(axis="y", pad=2.5)
    for s in ax.spines.values():
        s.set_visible(True)
        s.set_color("#444444")
        s.set_linewidth(1.0)

BOLD = dict(family=["Lato", "DejaVu Sans"], fontweight="bold", color="black")


def ftext(x, y, s, size, **kw):
    fig.text(x / W, 1 - y / H, s, fontsize=size, ha="center", va="center", **BOLD, **kw)


# column titles
for x, s in [(197, "Savannah Sparrows"), (501, "Nelson\u2019s Sparrows"),
             (795, "Song Sparrows"), (1125, "Swamp Sparrows")]:
    ftext(x, 20, s, 14)

# gene names
for x, s in [(172, "WNK2"), (505, "MMP17"), (838, "MYOF"), (1143, "SLC9A3")]:
    ftext(x, 71, s, 14.5)

# row labels
ftext(22, 130, "Fst", 19, rotation=90)
ftext(22, 400, "Tajima\u2019s D", 19, rotation=90)
ftext(22, 675, "pi", 19, rotation=90)

# chromosome labels
for x, s in [(199, "Chromosome 12"), (512, "Chromosome 15"),
             (818, "Chromosome 6"), (1118, "Chromosome 2")]:
    ftext(x, 820, s, 14)

ftext(646, 874, "Position", 16.5)

fig.savefig("out.png", dpi=100)
